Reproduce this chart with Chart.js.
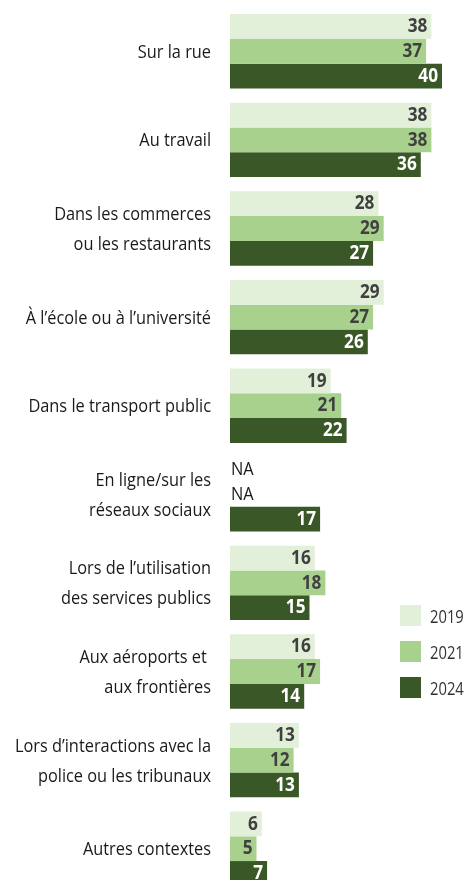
<!DOCTYPE html>
<html lang="fr">
<head>
  <meta charset="UTF-8" />
  <title>Contextes</title>
  <style>
    html, body { margin: 0; padding: 0; background: #ffffff; overflow: hidden; }
    #wrap { position: relative; width: 466px; height: 880px; overflow: hidden; }
    #box { position: absolute; left: 0; top: 0; width: 466px; height: 896px; }
    #legend { position: absolute; left: 400px; top: 605px; font-family: "Open Sans", sans-serif; font-size: 18px; color: #333; }
    #legend div { display: flex; align-items: center; height: 21px; margin-bottom: 15px; white-space: nowrap; }
    #legend span.sw { display: inline-block; width: 21px; height: 21px; margin-right: 9px; }
    #legend span.tx { display: inline-block; transform: scaleX(0.82); transform-origin: left center; }
  </style>
</head>
<body>
  <div id="wrap">
    <div id="box"><canvas id="chart"></canvas></div>
    <div id="legend"></div>
  </div>

  <script src="https://cdn.jsdelivr.net/npm/chart.js"></script>
  <script>
    // catégories (libellés sur plusieurs lignes)
    const categories = [
      ['Sur la rue'],
      ['Au travail'],
      ['Dans les commerces', 'ou les restaurants'],
      ['À l’école ou à l’université'],
      ['Dans le transport public'],
      ['En ligne/sur les', 'réseaux sociaux'],
      ['Lors de l’utilisation', 'des services publics'],
      ['Aux aéroports et ', 'aux frontières'],
      ['Lors d’interactions avec la', 'police ou les tribunaux'],
      ['Autres contextes']
    ];
    const years = ['2019', '2021', '2024'];
    const values2019 = [38, 38, 28, 29, 19, null, 16, 16, 13, 6];
    const values2021 = [37, 38, 29, 27, 21, null, 18, 17, 12, 5];
    const values2024 = [40, 36, 27, 26, 22, 17, 15, 14, 13, 7];
    const colors = ['#e2efd9', '#a9d18e', '#3a5727'];
    const labelColors = ['#404040', '#404040', '#ffffff'];

    const FONT = '"Open Sans", sans-serif';
    const SQUEEZE = 0.86; // police étroite simulée

    function narrowText(c, text, x, y) {
      c.save();
      c.translate(x, y);
      c.scale(SQUEEZE, 1);
      c.fillText(text, 0, 0);
      c.restore();
    }

    // libellés de catégories + étiquettes de valeur
    const textPlugin = {
      id: 'textPlugin',
      afterDatasetsDraw(chart) {
        const c = chart.ctx;
        const xs = chart.scales.x;
        const ys = chart.scales.y;
        c.save();
        c.textBaseline = 'middle';

        // catégories
        c.font = '19px ' + FONT;
        c.fillStyle = '#1a1a1a';
        c.textAlign = 'right';
        categories.forEach((lines, i) => {
          const yc = ys.getPixelForTick(i) + 1;
          const lh = 30;
          lines.forEach((t, k) => {
            narrowText(c, t, xs.left - 19, yc + (k - (lines.length - 1) / 2) * lh);
          });
        });

        // valeurs
        chart.data.datasets.forEach((ds, i) => {
          const meta = chart.getDatasetMeta(i);
          meta.data.forEach((bar, j) => {
            const v = ds.data[j];
            if (v === null) {
              c.font = '19px ' + FONT;
              c.fillStyle = '#1a1a1a';
              c.textAlign = 'left';
              narrowText(c, 'NA', xs.left + 1, bar.y);
            } else {
              c.font = 'bold 20px ' + FONT;
              c.fillStyle = labelColors[i];
              c.textAlign = 'right';
              narrowText(c, String(v), bar.x - 4, bar.y);
            }
          });
        });
        c.restore();
      }
    };

    const ctx = document.getElementById('chart').getContext('2d');
    new Chart(ctx, {
      type: 'bar',
      data: {
        labels: categories.map(l => l.join(' ')),
        datasets: [values2019, values2021, values2024].map((d, i) => ({
          label: years[i],
          data: d,
          backgroundColor: colors[i],
          borderWidth: 0,
          categoryPercentage: 0.84,
          barPercentage: 1.0
        }))
      },
      options: {
        indexAxis: 'y',
        responsive: true,
        maintainAspectRatio: false,
        animation: false,
        layout: { padding: { top: 7, bottom: 3, right: 6, left: 0 } },
        plugins: {
          legend: { display: false },
          tooltip: { enabled: false }
        },
        scales: {
          x: { display: false, min: 0, max: 43.4 },
          y: {
            grid: { display: false, drawTicks: false },
            border: { display: false },
            ticks: { display: false },
            afterFit(scale) {
              scale.width = 230;
              scale.paddingTop = 0;
              scale.paddingBottom = 0;
            }
          }
        }
      },
      plugins: [textPlugin]
    });

    // légende
    const legend = document.getElementById('legend');
    years.forEach((y, i) => {
      const row = document.createElement('div');
      row.innerHTML = '<span class="sw" style="background:' + colors[i] + '"></span><span class="tx">' + y + '</span>';
      legend.appendChild(row);
    });
  </script>
</body>
</html>
